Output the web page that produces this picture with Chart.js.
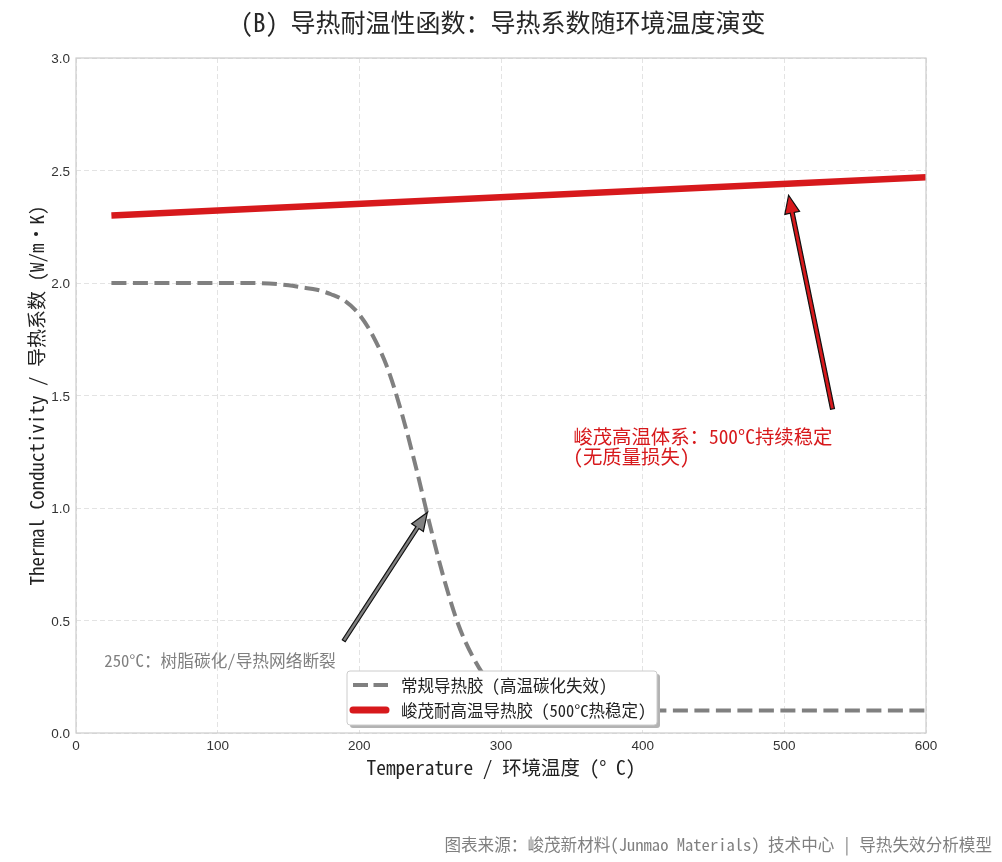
<!DOCTYPE html>
<html>
<head>
<meta charset="utf-8">
<script src="https://cdn.jsdelivr.net/npm/chart.js@4.4.1/dist/chart.umd.min.js"></script>
<style>
    html, body { margin: 0; padding: 0; background: #fff; }
    #wrap { width: 1002px; height: 862px; }
</style>
</head>
<body>
<div id="wrap"><canvas id="thermal-chart" width="1002" height="862"></canvas></div>
<script>
// 数据：常规导热胶（随温度碳化失效）
const stdTemps = [25, 50, 75, 100, 125, 150, 160, 170, 180, 190, 200, 210, 220, 230, 240, 250,
    260, 270, 280, 290, 300, 310, 320, 330, 340, 350, 375, 400, 450, 500, 550, 600];
const stdK = [2.00, 2.00, 2.00, 2.00, 2.00, 1.99, 1.98, 1.97, 1.95, 1.92, 1.86, 1.76, 1.62, 1.42, 1.18, 0.92,
    0.68, 0.48, 0.34, 0.24, 0.19, 0.15, 0.13, 0.12, 0.11, 0.11, 0.10, 0.10, 0.10, 0.10, 0.10, 0.10];

// 数据：峻茂耐高温导热胶
const jmTemps = [25, 600];
const jmK = [2.30, 2.47];

const xTicks = [0, 100, 200, 300, 400, 500, 600];
const yTicks = [0.0, 0.5, 1.0, 1.5, 2.0, 2.5, 3.0];

const seriesLabels = ['常规导热胶 (高温碳化失效)', '峻茂耐高温导热胶 (500°C热稳定)'];
const titleText = '(B) 导热耐温性函数：导热系数随环境温度演变';
const xTitle = 'Temperature / 环境温度 (° C)';
const yTitle = 'Thermal Conductivity / 导热系数 (W/m·K)';
const footText = '图表来源：峻茂新材料(Junmao Materials) 技术中心 | 导热失效分析模型';
const grayNote = '250°C：树脂碳化/导热网络断裂';
const redNote = ['峻茂高温体系：500°C持续稳定', '(无质量损失)'];

const CJK = '"Noto Sans Mono CJK SC", "Noto Sans CJK SC", sans-serif';
const GRAY = '#808080';
const RED = '#d7191c';

function drawArrow(ctx, x1, y1, x2, y2, fill, shaft, hw, hl) {
    const ang = Math.atan2(y2 - y1, x2 - x1);
    const len = Math.hypot(x2 - x1, y2 - y1);
    ctx.save();
    ctx.translate(x1, y1);
    ctx.rotate(ang);
    ctx.beginPath();
    ctx.moveTo(0, -shaft / 2);
    ctx.lineTo(len - hl, -shaft / 2);
    ctx.lineTo(len - hl, -hw / 2);
    ctx.lineTo(len, 0);
    ctx.lineTo(len - hl, hw / 2);
    ctx.lineTo(len - hl, shaft / 2);
    ctx.lineTo(0, shaft / 2);
    ctx.closePath();
    ctx.fillStyle = fill;
    ctx.fill();
    ctx.lineWidth = 1.2;
    ctx.strokeStyle = '#111';
    ctx.lineJoin = 'miter';
    ctx.stroke();
    ctx.restore();
}

const decorPlugin = {
    id: 'decor',
    afterDatasetsDraw(chart) {
        const ctx = chart.ctx;
        const a = chart.chartArea;
        const xs = chart.scales.x, ys = chart.scales.y;
        const px = v => xs.getPixelForValue(v);
        const py = v => ys.getPixelForValue(v);

        // frame
        ctx.save();
        ctx.strokeStyle = '#cccccc';
        ctx.lineWidth = 1.2;
        ctx.strokeRect(a.left, a.top, a.right - a.left, a.bottom - a.top);

        // annotations
        drawArrow(ctx, px(189), py(0.41), px(248), py(0.98), GRAY, 3.5, 14, 18);
        drawArrow(ctx, px(534), py(1.44), px(503), py(2.39), RED, 4, 15, 18);

        ctx.textBaseline = 'middle';
        ctx.textAlign = 'left';
        ctx.fillStyle = GRAY;
        ctx.font = '16.7px ' + CJK;
        ctx.fillText(grayNote, px(20), py(0.32));

        ctx.fillStyle = RED;
        ctx.font = '19.4px ' + CJK;
        ctx.fillText(redNote[0], px(351), py(1.316));
        ctx.fillText(redNote[1], px(351), py(1.227));

        // legend
        const lx = 347, ly = 671, lw = 310, lh = 54;
        ctx.fillStyle = '#b3b3b3';
        ctx.beginPath();
        ctx.roundRect(lx + 3, ly + 3, lw, lh, 3);
        ctx.fill();
        ctx.fillStyle = '#ffffff';
        ctx.strokeStyle = '#cccccc';
        ctx.lineWidth = 1;
        ctx.beginPath();
        ctx.roundRect(lx, ly, lw, lh, 3);
        ctx.fill();
        ctx.stroke();

        ctx.lineCap = 'butt';
        ctx.strokeStyle = GRAY;
        ctx.lineWidth = 4;
        ctx.setLineDash([15, 5.5]);
        ctx.beginPath();
        ctx.moveTo(353, 685);
        ctx.lineTo(388, 685);
        ctx.stroke();
        ctx.setLineDash([]);
        ctx.strokeStyle = RED;
        ctx.lineWidth = 7;
        ctx.lineCap = 'round';
        ctx.beginPath();
        ctx.moveTo(353, 710);
        ctx.lineTo(386, 710);
        ctx.stroke();

        ctx.fillStyle = '#222';
        ctx.font = '16.5px ' + CJK;
        ctx.fillText(seriesLabels[0], 401, 686);
        ctx.fillText(seriesLabels[1], 401, 711);
        ctx.restore();
    },
    afterDraw(chart) {
        const ctx = chart.ctx;
        ctx.save();
        ctx.textBaseline = 'middle';
        ctx.textAlign = 'center';
        ctx.fillStyle = '#262626';
        ctx.font = '25px ' + CJK;
        ctx.fillText(titleText, 503, 22);

        ctx.fillStyle = '#222';
        ctx.font = '19.4px ' + CJK;
        ctx.fillText(xTitle, 501, 768);
        ctx.font = '19px ' + CJK;
        ctx.translate(37, 395.5);
        ctx.rotate(-Math.PI / 2);
        ctx.fillText(yTitle, 0, 0);
        ctx.restore();

        ctx.save();
        ctx.textBaseline = 'middle';
        ctx.textAlign = 'right';
        ctx.fillStyle = GRAY;
        ctx.font = '16.6px ' + CJK;
        ctx.fillText(footText, 992, 845);
        ctx.restore();
    }
};

new Chart(document.getElementById('thermal-chart'), {
    type: 'line',
    data: {
        datasets: [{
            label: seriesLabels[0],
            data: stdTemps.map((t, i) => ({ x: t, y: stdK[i] })),
            borderColor: GRAY,
            borderWidth: 4,
            borderDash: [15, 6.5],
            cubicInterpolationMode: 'monotone',
            pointRadius: 0,
            fill: false
        }, {
            label: seriesLabels[1],
            data: jmTemps.map((t, i) => ({ x: t, y: jmK[i] })),
            borderColor: RED,
            borderWidth: 6.5,
            pointRadius: 0,
            fill: false
        }]
    },
    options: {
        responsive: false,
        devicePixelRatio: 1,
        animation: false,
        layout: {
            padding: { top: 58, right: 76, left: 0, bottom: 0 }
        },
        plugins: {
            legend: { display: false },
            title: { display: false },
            tooltip: { enabled: false }
        },
        scales: {
            x: {
                type: 'linear',
                min: 0,
                max: 600,
                afterFit: s => { s.height = 129; },
                afterBuildTicks: s => { s.ticks = xTicks.map(v => ({ value: v })); },
                grid: { color: '#e3e3e3', lineWidth: 1, drawTicks: false },
                border: { display: false, dash: [5, 3] },
                ticks: {
                    padding: 5,
                    color: '#333',
                    font: { family: '"Liberation Sans", Arial, sans-serif', size: 13.5 },
                    maxRotation: 0,
                    callback: v => String(v)
                }
            },
            y: {
                min: 0,
                max: 3,
                afterFit: s => { s.width = 76; },
                afterBuildTicks: s => { s.ticks = yTicks.map(v => ({ value: v })); },
                grid: { color: '#e3e3e3', lineWidth: 1, drawTicks: false },
                border: { display: false, dash: [5, 3] },
                ticks: {
                    padding: 6,
                    labelOffset: 1.5,
                    color: '#333',
                    font: { family: '"Liberation Sans", Arial, sans-serif', size: 13.5 },
                    callback: v => Number(v).toFixed(1)
                }
            }
        }
    },
    plugins: [decorPlugin]
});
</script>
</body>
</html>
